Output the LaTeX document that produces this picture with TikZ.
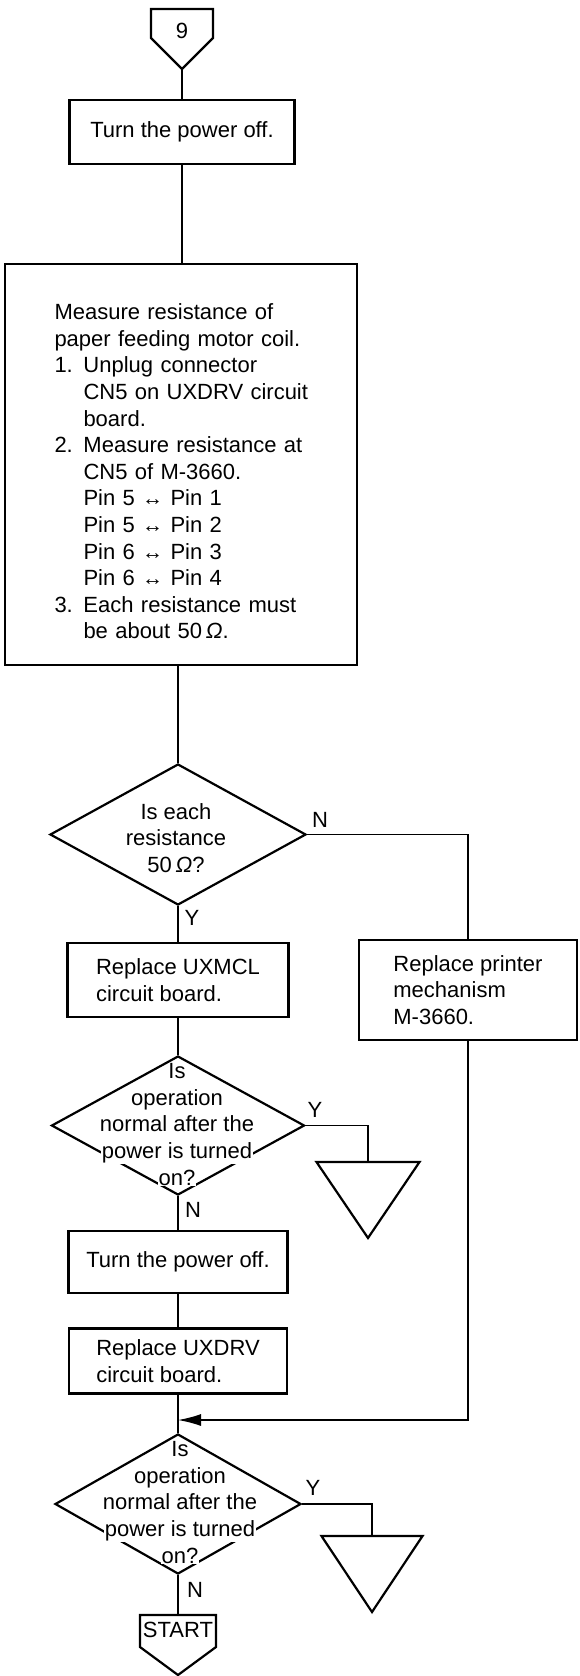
\documentclass[tikz,border=0pt]{standalone}
\usepackage{fontspec}
\setmainfont{Liberation Sans}
\usetikzlibrary{shapes.geometric,arrows.meta}
\setlength{\fboxsep}{1pt}
\newcommand\numitem[2]{\makebox[29pt][l]{#1}#2}
\newcommand\contitem[1]{\hspace*{29pt}#1}
\newcommand\lr{{\fontsize{21}{21}\selectfont ↔}}
\newcommand\ohm{{\itshape Ω}}
\begin{document}
\begin{tikzpicture}[x=1pt,y=-1pt,
  every node/.style={font=\fontsize{22}{26.6}\selectfont, inner sep=0pt},
  box/.style={draw, line width=2.4pt, rectangle},
  dia/.style={draw, line width=2.2pt, diamond, inner sep=0pt},
  shp/.style={draw, line width=2.2pt},
  conn/.style={line width=1.4pt}
]
\useasboundingbox (0,0) rectangle (580,1676);

% top: off-page connector 9
\node (p9) at (182,31) {9};
\draw[shp] (151,9) -- (213,9) -- (213,38) -- (182,69) -- (151,38) -- cycle;
\coordinate (p9tip) at (182,69);

\node[box, minimum width=225pt, minimum height=64pt] (b1) at (182,132) {Turn the power off.};

\node[box, minimum width=352pt, minimum height=401pt, text width=253pt, align=left] (b2) at (181,464.5) {%
\rule{0pt}{30pt}Measure resistance of\\
paper feeding motor coil.\\
\numitem{1.}{Unplug connector}\\
\contitem{\makebox[223pt][s]{CN5 on UXDRV circuit}}\\
\contitem{board.}\\
\numitem{2.}{\makebox[223pt][s]{Measure resistance at}}\\
\contitem{CN5 of M-3660.}\\
\contitem{Pin 5 \lr{} Pin 1}\\
\contitem{Pin 5 \lr{} Pin 2}\\
\contitem{Pin 6 \lr{} Pin 3}\\
\contitem{Pin 6 \lr{} Pin 4}\\
\numitem{3.}{Each resistance must}\\
\contitem{be about 50\,\ohm.}};

% decision 1
\node[dia, minimum width=256pt, minimum height=141pt] (d1) at (178,834.5) {};
\node[align=center] (d1t) at (176,838) {Is each\\resistance\\50\,\ohm?};
\node (d1n) at (320,820) {N};
\node (d1y) at (192,918) {Y};

\node[box, minimum width=221pt, minimum height=74pt, align=left] (b3) at (178,980) {Replace UXMCL\\circuit board.};
\node[box, minimum width=218pt, minimum height=100pt, align=left] (b4) at (468,990) {Replace printer\\mechanism\\M-3660.};

% decision 2
\node[dia, minimum width=253pt, minimum height=139pt] (d2) at (178,1125.5) {};
\node[align=center] (d2t) at (177,1125) {Is\\operation\\normal after the\\\colorbox{white}{power is turned}\\\colorbox{white}{on?}};
\node (d2y) at (315,1110) {Y};
\node (d2n) at (193,1210) {N};
\coordinate (t1) at (368,1162);
\draw[shp] (t1) ++(-51.5,0) -- ++(103,0) -- ++(-51.5,76) -- cycle;

\node[box, minimum width=219pt, minimum height=62pt] (b5) at (178,1262) {Turn the power off.};
\node[box, minimum width=218pt, minimum height=65pt, align=left] (b6) at (178,1361) {Replace UXDRV\\circuit board.};

\coordinate (j) at (178,1420);

% decision 3
\node[dia, minimum width=246pt, minimum height=140pt] (d3) at (178,1504) {};
\node[align=center] (d3t) at (180,1503) {Is\\operation\\normal after the\\\colorbox{white}{power is turned}\\\colorbox{white}{on?}};
\node (d3y) at (313,1488) {Y};
\node (d3n) at (195,1590) {N};
\coordinate (t2) at (372,1536);
\draw[shp] (t2) ++(-50.5,0) -- ++(101,0) -- ++(-50.5,76) -- cycle;

% START off-page connector
\node (st) at (178,1630) {START};
\draw[shp] (140,1615) -- (216,1615) -- (216,1647) -- (178,1675) -- (140,1647) -- cycle;
\coordinate (sttop) at (178,1615);

% connectors
\draw[conn] (p9tip) -- (b1.north);
\draw[conn] (b1.south) -- (b2.north -| b1.south);
\draw[conn] (b2.south -| d1.north) -- (d1.north);
\draw[conn] (d1.east) -| (b4.north);
\draw[conn] (d1.south) -- (b3.north);
\draw[conn] (b3.south) -- (d2.north);
\draw[conn] (d2.east) -| (t1);
\draw[conn] (d2.south) -- (b5.north);
\draw[conn] (b5.south) -- (b6.north);
\draw[conn] (b6.south) -- (d3.north);
\draw[conn, -{Latex[length=23pt,width=12pt]}] (b4.south) |- (j);
\draw[conn] (d3.east) -| (t2);
\draw[conn] (d3.south) -- (sttop);
\end{tikzpicture}
\end{document}
